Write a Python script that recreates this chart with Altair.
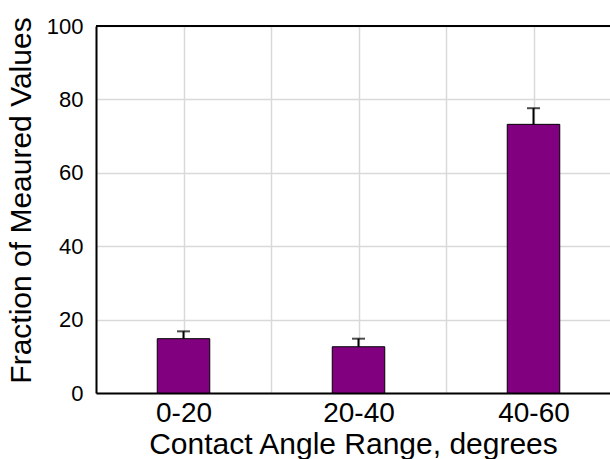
import altair as alt
import pandas as pd

categories = ["0-20", "20-40", "40-60"]
values = [14.8, 12.6, 73.2]
errors = [2.0, 2.2, 4.4]

df = pd.DataFrame({
    "cat": categories,
    "pos": [i + 0.5 for i in range(len(categories))],
    "value": values,
    "err": errors,
})
df["lo"] = df["pos"] - 0.15
df["hi"] = df["pos"] + 0.15
df["top"] = df["value"] + df["err"]

label_expr = "datum.value == 0.5 ? '0-20' : datum.value == 1.5 ? '20-40' : datum.value == 2.5 ? '40-60' : ''"

xscale = alt.Scale(domain=[0, 514 / 175], nice=False, zero=False)
yscale = alt.Scale(domain=[0, 100], nice=False)

base = alt.Chart(df)

bars = base.mark_bar(color="#800080", stroke="black", strokeWidth=1).encode(
    x=alt.X("lo:Q", scale=xscale,
            axis=alt.Axis(values=[0, 0.5, 1, 1.5, 2, 2.5], labelExpr=label_expr,
                          title="Contact Angle Range, degrees", ticks=False,
                          labelPadding=6, titlePadding=2, labelFontSize=28,
                          titleFontSize=30)),
    x2="hi:Q",
    y=alt.Y("value:Q", scale=yscale,
            axis=alt.Axis(values=[0, 20, 40, 60, 80, 100], ticks=False,
                          title="Fraction of Meaured Values", labelPadding=13,
                          titlePadding=10, labelFontSize=22, titleFontSize=30,
                          titleY=174)),
    y2=alt.datum(0),
)

err_line = base.mark_rule(color="black", strokeWidth=2).encode(
    x="pos:Q", y="value:Q", y2="top:Q"
)
caps = base.mark_tick(color="black", orient="horizontal", size=13, thickness=2).encode(
    x="pos:Q", y="top:Q"
)
top_border = alt.Chart(pd.DataFrame({"y": [100]})).mark_rule(color="black", strokeWidth=2).encode(
    y="y:Q"
)

chart = alt.layer(bars, err_line, caps, top_border).properties(
    width=514, height=367,
    autosize=alt.AutoSizeParams(type="none"),
    padding={"left": 96, "top": 26, "right": 0, "bottom": 66},
).configure_view(stroke=None).configure_axis(
    domainColor="black", domainWidth=2,
    gridColor="#d9d9d9", gridWidth=1.5,
    labelFont="Liberation Sans", titleFont="Liberation Sans",
    labelColor="black", titleColor="black",
    titleFontWeight="normal",
)

chart.save("out.html", embed_options={"renderer": "svg", "actions": False})
